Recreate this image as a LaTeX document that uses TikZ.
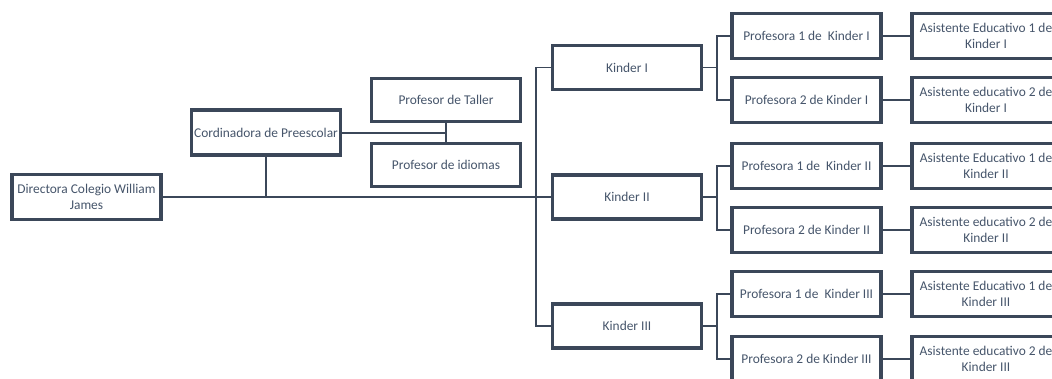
\documentclass[tikz,border=0pt]{standalone}
\usepackage{fontspec}
\setmainfont{Carlito}
\definecolor{bordercol}{HTML}{3B4759}
\definecolor{textcol}{HTML}{46556B}
\begin{document}
\begin{tikzpicture}[x=1pt,y=-1pt,
  box/.style={draw=bordercol, line width=3.4pt, fill=white, text=textcol,
    minimum width=149pt, minimum height=45pt, inner sep=0pt, align=center,
    font=\fontsize{13.4}{16}\selectfont},
  abox/.style={box, minimum width=148pt},
  conn/.style={draw=bordercol, line width=2pt},
  thin/.style={draw=bordercol, line width=1.7pt}]
\useasboundingbox (0,0) rectangle (1052,378);
\clip (0,0) rectangle (1052,378);
% left part
\node[box] (dir) at (86.5,197) {Directora Colegio William\\James};
\node[box] (cord) at (266,132.5) {Cordinadora de Preescolar};
\node[box, minimum height=43pt] (taller) at (446,100) {Profesor de Taller};
\node[box, minimum height=43pt] (idiomas) at (446,165) {Profesor de idiomas};
% kinder
\node[box, minimum height=44pt] (k1) at (627,67.5) {Kinder I};
\node[box, minimum height=44pt] (k2) at (627,197) {Kinder II};
\node[box, minimum height=44pt] (k3) at (627,326) {Kinder III};
% profesoras
\node[box] (p11) at (806.5,36) {Profesora 1 de\ \ Kinder I};
\node[box] (p12) at (806.5,100) {Profesora 2 de Kinder I};
\node[box] (p21) at (806.5,166) {Profesora 1 de\ \ Kinder II};
\node[box] (p22) at (806.5,230) {Profesora 2 de Kinder II};
\node[box] (p31) at (806.5,294) {Profesora 1 de\ \ Kinder III};
\node[box] (p32) at (806.5,359) {Profesora 2 de Kinder III};
% asistentes
\node[abox] (a11) at (986,36) {Asistente Educativo 1 de\\Kinder I};
\node[abox] (a12) at (986,100) {Asistente educativo 2 de\\Kinder I};
\node[abox] (a21) at (986,166) {Asistente Educativo 1 de\\Kinder II};
\node[abox] (a22) at (986,230) {Asistente educativo 2 de\\Kinder II};
\node[abox] (a31) at (986,294) {Asistente Educativo 1 de\\Kinder III};
\node[abox] (a32) at (986,359) {Asistente educativo 2 de\\Kinder III};
% connectors
\draw[conn] (dir.east) -- (dir.east -| k2.west);
\draw[conn] (cord.south) -- (cord.south |- dir.east);
\draw[conn] (cord.east) -- (cord.east -| taller.south);
\draw[conn] (taller.south) -- (idiomas.north);
\draw[thin] (k1.west) -- ([xshift=-15pt]k1.west) -- ([xshift=-15pt]k3.west) -- (k3.west);
\foreach \k/\a/\b in {k1/p11/p12, k2/p21/p22, k3/p31/p32}{
  \draw[thin] (\k.east) -- ([xshift=14pt]\k.east);
  \draw[thin] (\a.west) -- ([xshift=-13pt]\a.west) -- ([xshift=-13pt]\b.west) -- (\b.west);
}
\foreach \p/\q in {p11/a11, p12/a12, p21/a21, p22/a22, p31/a31, p32/a32}{
  \draw[conn] (\p.east) -- (\q.west);
}
\end{tikzpicture}
\end{document}
